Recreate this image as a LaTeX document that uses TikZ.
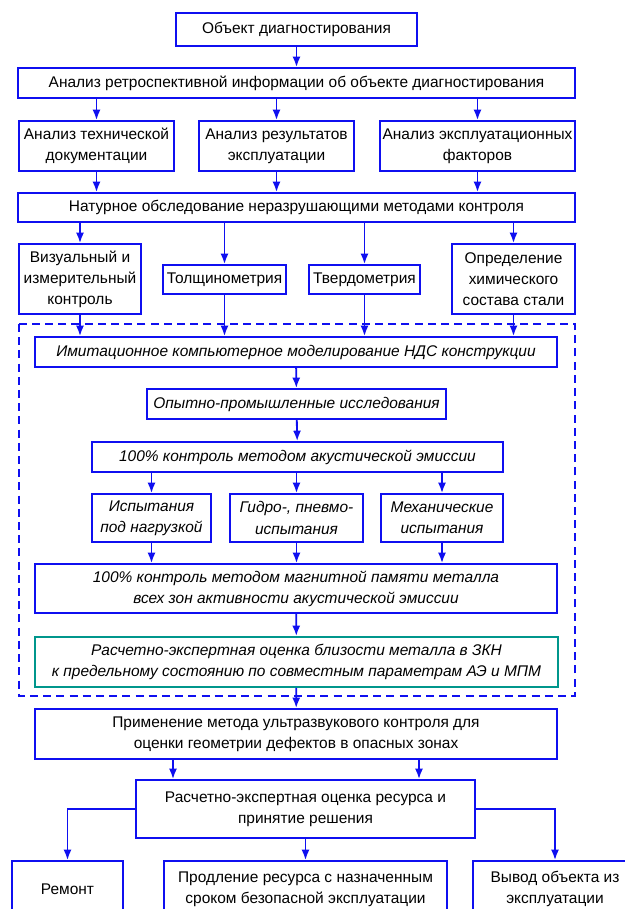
\documentclass[tikz,border=0pt]{standalone}
\usepackage{fontspec}
\setmainfont{Liberation Sans}
\usepackage{tikz}
\usetikzlibrary{arrows.meta,positioning,calc}
\definecolor{schemeblue}{RGB}{15,15,240}
\definecolor{schemeteal}{RGB}{0,150,140}
\tikzset{
  boxsize/.style 2 args={minimum width=#1*0.025cm, minimum height=#2*0.025cm},
  blk/.style={draw=schemeblue, line width=1.3pt, rectangle, align=center, inner sep=1pt, font=\fontsize{11}{15}\selectfont},
  blkit/.style={blk, font=\fontsize{11}{15}\selectfont\itshape},
  blkteal/.style={blkit, draw=schemeteal},
  arrow/.style={-{Latex[length=2.6mm,width=2mm]}, draw=schemeblue, line width=1.3pt},
  frame/.style={draw=schemeblue, line width=1.3pt, dash pattern=on 2mm off 1.3mm}
}
\begin{document}
\begin{tikzpicture}[x=0.025cm,y=-0.025cm]
  \useasboundingbox (0,0) rectangle (625,909);
  % upper part
  \node[blk, boxsize={241}{33}] (obj) at (296.5,29.5) {Объект диагностирования};
  \node[blk, boxsize={557}{30}] (retro) at (296.5,83) {Анализ ретроспективной информации об объекте диагностирования};
  \node[blk, boxsize={155}{50}] (doc) at (96.5,146) {Анализ технической\\документации};
  \node[blk, boxsize={155}{50}] (expl) at (276.5,146) {Анализ результатов\\эксплуатации};
  \node[blk, boxsize={195}{50}] (fact) at (477.5,146) {Анализ эксплуатационных\\факторов};
  \node[blk, boxsize={557}{29}] (natur) at (296.5,207.5) {Натурное обследование неразрушающими методами контроля};
  \node[blk, boxsize={122}{70}] (viz) at (80,279) {Визуальный и\\измерительный\\контроль};
  \node[blk, boxsize={123}{29}] (tol) at (224.5,279.5) {Толщинометрия};
  \node[blk, boxsize={111}{29}] (tverd) at (364.5,279.5) {Твердометрия};
  \node[blk, boxsize={123}{70}] (opr) at (513.5,279) {Определение\\химического\\состава стали};
  % dashed block
  \draw[frame] (19,324) rectangle (575,696);
  \node[blkit, boxsize={522}{30}] (imit) at (296,352) {Имитационное компьютерное моделирование НДС конструкции};
  \node[blkit, boxsize={299}{30}] (opyt) at (296.5,404) {Опытно-промышленные исследования};
  \node[blkit, boxsize={411}{30}] (ae) at (297.5,457) {100\% контроль методом акустической эмиссии};
  \node[blkit, boxsize={119}{48}] (nagr) at (151.5,518) {Испытания\\под нагрузкой};
  \node[blkit, boxsize={133}{48}] (gidro) at (296.5,518) {Гидро-, пневмо-\\испытания};
  \node[blkit, boxsize={122}{48}] (mech) at (442,518) {Механические\\испытания};
  \node[blkit, boxsize={522}{49}] (mpm) at (296,588.5) {100\% контроль методом магнитной памяти металла\\всех зон активности акустической эмиссии};
  \node[blkteal, boxsize={523}{50}] (zkn) at (296.5,662) {Расчетно-экспертная оценка близости металла в ЗКН\\к предельному состоянию по совместным параметрам АЭ и МПМ};
  % lower part
  \node[blk, boxsize={522}{50}] (uzk) at (296,734) {Применение метода ультразвукового контроля для\\оценки геометрии дефектов в опасных зонах};
  \node[blk, boxsize={339}{58}] (resurs) at (305.5,809) {Расчетно-экспертная оценка ресурса и\\принятие решения};
  \node[blk, boxsize={111}{56}] (remont) at (67.5,889) {Ремонт};
  \node[blk, boxsize={283}{56}] (prodl) at (305.5,889) {Продление ресурса с назначенным\\сроком безопасной эксплуатации};
  \node[blk, boxsize={164}{56}] (vyvod) at (555,889) {Вывод объекта из\\эксплуатации};
  % arrows
  \draw[arrow] (obj) -- (retro);
  \foreach \n in {doc,expl,fact} {
    \draw[arrow] (\n.north |- retro.south) -- (\n.north);
    \draw[arrow] (\n.south) -- (\n.south |- natur.north);
  }
  \foreach \n in {viz,tol,tverd,opr} {
    \draw[arrow] (\n.north |- natur.south) -- (\n.north);
    \draw[arrow] (\n.south) -- (\n.south |- imit.north);
  }
  \draw[arrow] (imit) -- (opyt);
  \draw[arrow] (opyt) -- (ae);
  \foreach \n in {nagr,gidro,mech} {
    \draw[arrow] (\n.north |- ae.south) -- (\n.north);
    \draw[arrow] (\n.south) -- (\n.south |- mpm.north);
  }
  \draw[arrow] (mpm) -- (zkn);
  \draw[arrow] (zkn) -- (uzk);
  \draw[arrow] ($(uzk.south)+(-123,0)$) coordinate (u1) -- (u1 |- resurs.north);
  \draw[arrow] ($(uzk.south)+(123,0)$) coordinate (u2) -- (u2 |- resurs.north);
  \draw[arrow] (resurs.west) -| (remont.north);
  \draw[arrow] (resurs.south) -- (prodl.north);
  \draw[arrow] (resurs.east) -| (vyvod.north);
\end{tikzpicture}
\end{document}
